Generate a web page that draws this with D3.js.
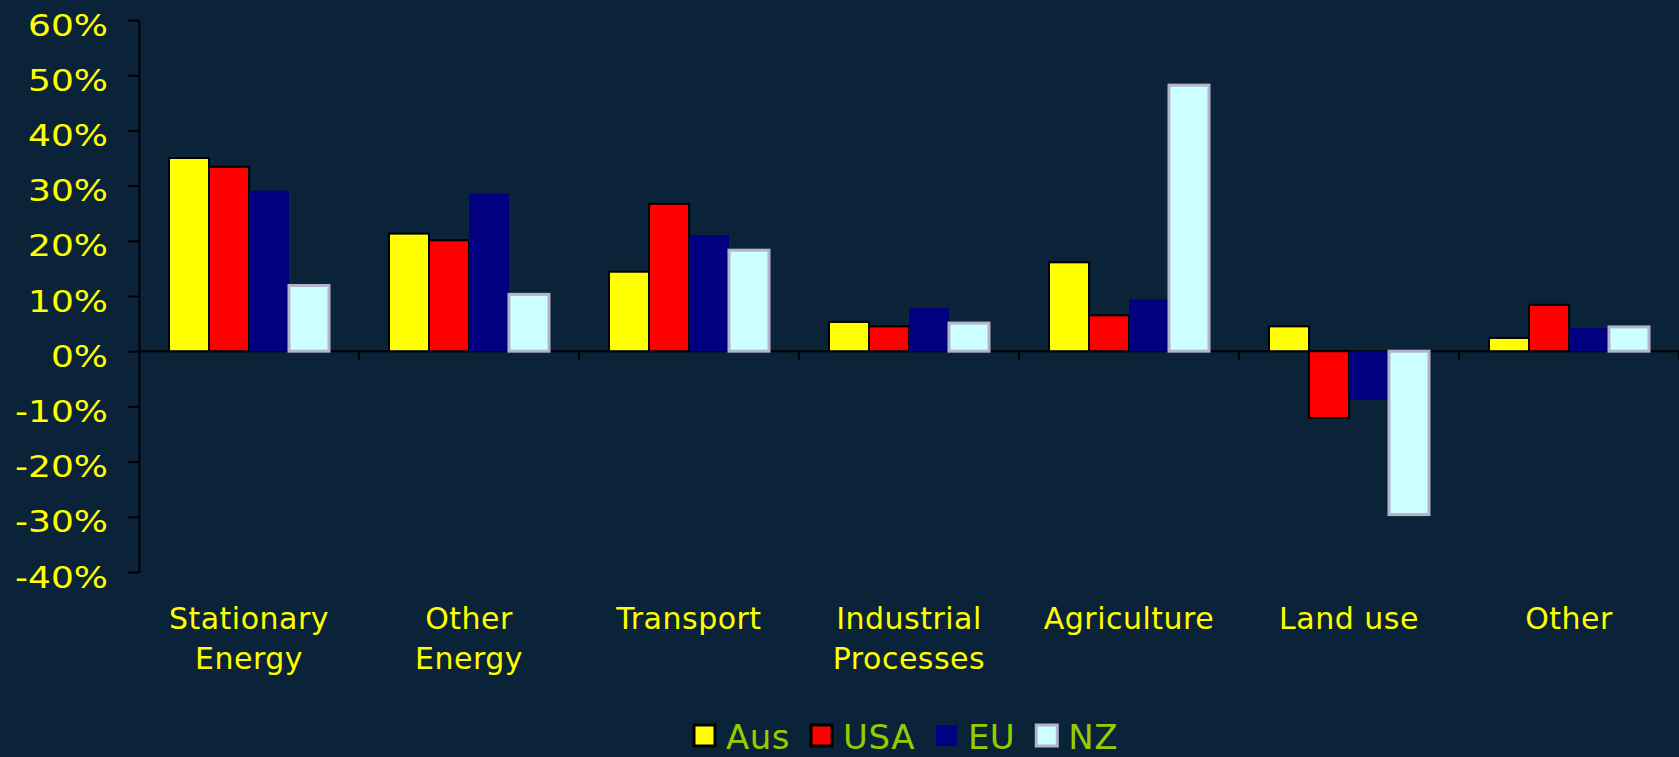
<!DOCTYPE html>
<html>
<head>
<meta charset="utf-8">
<script src="https://cdn.jsdelivr.net/npm/d3@7"></script>
<style>
  html, body { margin: 0; padding: 0; background: #0a2338; }
  svg { display: block; }
</style>
</head>
<body>
<svg id="chart" width="1679" height="757"></svg>
<script>
// ---- data ----
const categories = ["Stationary Energy", "Other Energy", "Transport", "Industrial Processes", "Agriculture", "Land use", "Other"];
const categoryLines = [["Stationary", "Energy"], ["Other", "Energy"], ["Transport"], ["Industrial", "Processes"], ["Agriculture"], ["Land use"], ["Other"]];
const seriesNames = ["Aus", "USA", "EU", "NZ"];
const aus = [0.350, 0.213, 0.144, 0.053, 0.161, 0.045, 0.024];
const usa = [0.334, 0.201, 0.267, 0.045, 0.065, -0.121, 0.084];
const eu  = [0.291, 0.286, 0.210, 0.078, 0.094, -0.088, 0.042];
const nz  = [0.119, 0.103, 0.183, 0.051, 0.482, -0.296, 0.044];
const yTicks = [0.6, 0.5, 0.4, 0.3, 0.2, 0.1, 0, -0.1, -0.2, -0.3, -0.4];

const seriesValues = [aus, usa, eu, nz];
const fills = ["#ffff00", "#ff0000", "#000080", "#ccffff"];
const strokes = ["#000000", "#000000", "none", "#b3b3cc"];
const strokeW = [2, 2, 0, 3];

const svg = d3.select("#chart");
const plotLeft = 139, plotRight = 1679, plotTop = 20, plotBottom = 572;

const y = d3.scaleLinear().domain([-0.4, 0.6]).range([plotBottom, plotTop]);
const x = d3.scaleBand().domain(categories).range([plotLeft, plotRight]).paddingInner(0).paddingOuter(0);
const xi = d3.scaleBand().domain(seriesNames).range([0, x.bandwidth()]).paddingInner(0).paddingOuter(0.75);

// zero line (x axis)
svg.append("line")
  .attr("x1", plotLeft).attr("x2", plotRight)
  .attr("y1", y(0)).attr("y2", y(0))
  .attr("stroke", "#000").attr("stroke-width", 2);

// category boundary ticks
svg.append("g").selectAll("line")
  .data(categories)
  .join("line")
  .attr("x1", d => x(d) + x.bandwidth()).attr("x2", d => x(d) + x.bandwidth())
  .attr("y1", y(0)).attr("y2", y(0) + 9)
  .attr("stroke", "#000").attr("stroke-width", 2);

// y axis
const yAxis = svg.append("g")
  .attr("transform", `translate(${plotLeft},0)`)
  .call(d3.axisLeft(y).tickValues(yTicks)
    .tickFormat(d => Math.round(d * 100) + "%")
    .tickSize(11).tickSizeOuter(0));
yAxis.select(".domain").attr("stroke", "#000").attr("stroke-width", 2);
yAxis.selectAll(".tick line").attr("stroke", "#000").attr("stroke-width", 2);
yAxis.selectAll(".tick text")
  .attr("x", 0).attr("dy", "0.5em")
  .attr("transform", "translate(-31,0) scale(1.2,1)")
  .attr("fill", "#ffff00")
  .attr("font-family", "DejaVu Sans, Verdana, sans-serif")
  .attr("font-size", 30)
  .attr("text-anchor", "end");

// bars
const groups = svg.append("g").selectAll("g")
  .data(seriesNames)
  .join("g");
groups.each(function(s, si) {
  d3.select(this).selectAll("rect")
    .data(categories.map((c, ci) => ({ c, v: seriesValues[si][ci] })))
    .join("rect")
    .attr("x", d => x(d.c) + xi(s))
    .attr("width", xi.bandwidth())
    .attr("y", d => y(Math.max(0, d.v)))
    .attr("height", d => Math.abs(y(d.v) - y(0)))
    .attr("fill", fills[si])
    .attr("stroke", strokes[si])
    .attr("stroke-width", strokeW[si]);
});

// category labels
const labels = svg.append("g").selectAll("text")
  .data(categories)
  .join("text")
  .attr("x", d => x(d) + x.bandwidth() / 2)
  .attr("y", 629)
  .attr("text-anchor", "middle")
  .attr("fill", "#ffff00")
  .attr("font-family", "DejaVu Sans, Verdana, sans-serif")
  .attr("font-size", 30)
  .attr("letter-spacing", 0.5);
labels.each(function(d, i) {
  d3.select(this).selectAll("tspan")
    .data(categoryLines[i])
    .join("tspan")
    .attr("x", x(d) + x.bandwidth() / 2)
    .attr("dy", (t, j) => j === 0 ? 0 : 40)
    .text(t => t);
});

// legend
const legend = svg.append("g");
let lx = 0;
seriesNames.forEach((s, si) => {
  const g = legend.append("g");
  g.append("rect")
    .attr("x", 0).attr("y", 725).attr("width", 21).attr("height", 21)
    .attr("fill", fills[si])
    .attr("stroke", strokes[si])
    .attr("stroke-width", 3);
  const t = g.append("text")
    .attr("x", 32).attr("y", 749)
    .attr("fill", "#99cc00")
    .attr("font-family", "DejaVu Sans, Verdana, sans-serif")
    .attr("font-size", 34)
    .attr("letter-spacing", 0.5)
    .text(s);
  const w = 32 + t.node().getComputedTextLength();
  g.attr("transform", `translate(${lx},0)`);
  lx += w + 21;
});
const totalW = lx - 21;
legend.attr("transform", `translate(${906 - totalW / 2},0)`);
</script>
</body>
</html>
